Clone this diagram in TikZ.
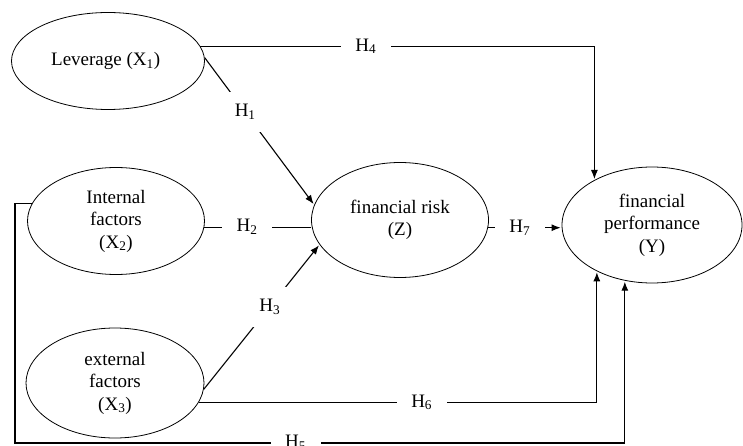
\documentclass[tikz,border=0pt]{standalone}
\usepackage{fontspec}
\setmainfont{Liberation Serif}
\usetikzlibrary{positioning,shapes,arrows.meta}
\tikzstyle{latent}=[
	ellipse,
	draw=black,
	line width=0.8pt,
	align=center,
	inner sep=0pt,
	text=black]
\tikzstyle{hyp}=[
	fill=white,
	inner sep=0pt,
	minimum width=50pt,
	minimum height=40pt]
\tikzset{link/.style={draw=black, line width=1.1pt},
	effect/.style={link, -{Latex[length=9pt,width=7pt]}, shorten >=1pt}}

\begin{document}
\begin{tikzpicture}[x=1pt,y=-1pt,font=\fontsize{19}{22.5}\selectfont]
	\useasboundingbox (0,0) rectangle (743,446);

		\node (Leverage) [latent, minimum width=193pt, minimum height=97pt] at (108,61) {
			Leverage (X\textsubscript{1})
		};

		\node (Internal) [latent, minimum width=177pt, minimum height=107pt] at (116,221) {
			Internal\\ factors\\ (X\textsubscript{2})
		};

		\node (External) [latent, minimum width=178pt, minimum height=110pt] at (115,383) {
			external\\ factors\\ (X\textsubscript{3})
		};

		\node (Risk) [latent, minimum width=177pt, minimum height=115pt] at (400,220) {
			financial risk\\ (Z)
		};

		\node (Performance) [latent, minimum width=180pt, minimum height=116pt] at (652,225) {
			financial\\ performance\\ (Y)
		};

		\coordinate (Corner) at (15,443);

		\draw[effect] (Leverage.9) -| node[hyp, pos=0.21] {H\textsubscript{4}} (Performance.142);
		\draw[effect] (Leverage.2) -- node[hyp, pos=0.37] {H\textsubscript{1}} (Risk.170);
		\draw[link] (Internal.-4) -- node[hyp, pos=0.4] {H\textsubscript{2}} (Internal.-4 -| Risk.west);
		\draw[effect] (External.-4) -- node[hyp, pos=0.57] {H\textsubscript{3}} (Risk.197);
		\draw[effect] (Risk.-5) -- node[hyp, pos=0.43] {H\textsubscript{7}} (Risk.-5 -| Performance.west);
		\draw[effect] (External.-13) -| node[hyp, pos=0.28] {H\textsubscript{6}} (Performance.220);
		\draw[effect] (Internal.168) -| (Corner) -| node[hyp, pos=0.23] {H\textsubscript{5}} (Performance.244);

\end{tikzpicture}
\end{document}
